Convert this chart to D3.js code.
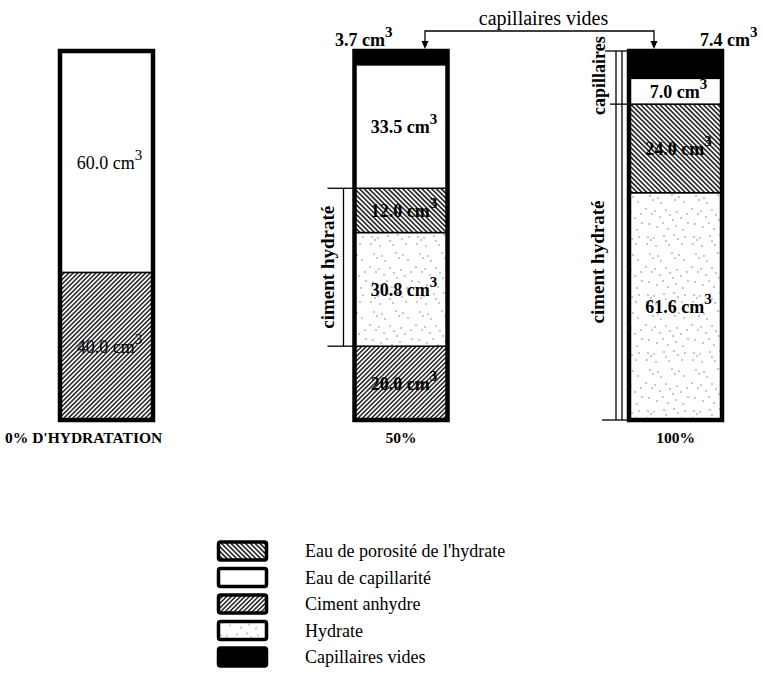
<!DOCTYPE html>
<html><head><meta charset="utf-8">
<script src="https://cdn.jsdelivr.net/npm/d3@7"></script>
<style>
html,body{margin:0;padding:0;background:#fff;}
svg{display:block;font-family:"Liberation Serif","Times New Roman",serif;}
</style></head>
<body>
<svg id="chart" width="763" height="693"></svg>
<script>
// ---- data ----
const categories = ["0% D'HYDRATATION", "50%", "100%"];
const components = ["Ciment anhydre", "Hydrate", "Eau de porosité de l'hydrate", "Eau de capillarité", "Capillaires vides"]; // bottom -> top
const cimentAnhydre = [40.0, 20.0, 0];
const hydrate = [0, 30.8, 61.6];
const eauPorosite = [0, 12.0, 24.0];
const eauCapillarite = [60.0, 33.5, 7.0];
const capillairesVides = [0, 3.7, 7.4];
const legendOrder = ["Eau de porosité de l'hydrate", "Eau de capillarité", "Ciment anhydre", "Hydrate", "Capillaires vides"];
const unit = "cm";

const series = [cimentAnhydre, hydrate, eauPorosite, eauCapillarite, capillairesVides];
const rows = categories.map((c, i) => {
  const r = {cat: c};
  components.forEach((k, j) => r[k] = series[j][i]);
  return r;
});

const svg = d3.select("#chart");
const defs = svg.append("defs");

// patterns
function hatch(id, angle, gap, sw) {
  const p = defs.append("pattern").attr("id", id).attr("patternUnits", "userSpaceOnUse")
    .attr("width", gap).attr("height", gap).attr("patternTransform", `rotate(${angle})`);
  p.append("rect").attr("width", gap).attr("height", gap).attr("fill", "#fff");
  p.append("line").attr("x1", gap/2).attr("x2", gap/2).attr("y1", 0).attr("y2", gap)
    .attr("stroke", "#222").attr("stroke-width", sw);
}
hatch("pAnhydre", 45, 3.2, 1.5);
hatch("pPorosite", -45, 3.4, 1.6);
const stip = defs.append("pattern").attr("id", "pHydrate").attr("patternUnits", "userSpaceOnUse")
  .attr("width", 46).attr("height", 58);
stip.append("rect").attr("width", 46).attr("height", 58).attr("fill", "#fff");
const dots = [[4,5],[7,8],[10,6],[3,12],[12,14],[20,4],[22,9],[25,13],[30,3],[34,7],[38,12],[41,5],
  [6,22],[9,26],[14,24],[17,29],[28,21],[31,26],[35,23],[40,28],[2,35],[8,40],[11,37],[16,43],
  [22,36],[26,41],[29,46],[33,38],[37,44],[43,40],[5,50],[13,53],[19,49],[24,55],[32,52],[39,56],[44,49]];
stip.selectAll("circle").data(dots).join("circle")
  .attr("cx", d => d[0]).attr("cy", d => d[1]).attr("r", 0.7).attr("fill", "#666");

const fills = {
  "Ciment anhydre": "url(#pAnhydre)",
  "Hydrate": "url(#pHydrate)",
  "Eau de porosité de l'hydrate": "url(#pPorosite)",
  "Eau de capillarité": "#fff",
  "Capillaires vides": "#000"
};

// scales
const x = d3.scaleOrdinal().domain(categories).range([106.5, 401, 675.5]);
const barW = 93;
const y = d3.scaleLinear().domain([0, 100]).range([420, 51]);

const stacked = d3.stack().keys(components)(rows);

// segments
const gBars = svg.append("g");
stacked.forEach(layer => {
  gBars.append("g").selectAll("rect").data(layer.filter(d => d[1] > d[0])).join("rect")
    .attr("x", d => x(d.data.cat) - barW/2)
    .attr("width", barW)
    .attr("y", d => y(d[1]))
    .attr("height", d => y(d[0]) - y(d[1]))
    .attr("fill", fills[layer.key])
    .attr("stroke", "#000").attr("stroke-width", 1.5);
});
// bar outlines
gBars.selectAll(".outline").data(rows).join("rect")
  .attr("x", d => x(d.cat) - barW/2).attr("width", barW)
  .attr("y", y(100)).attr("height", y(0) - y(100))
  .attr("fill", "none").attr("stroke", "#000").attr("stroke-width", 4.5);

// value labels
function cmLabel(sel, v) {
  sel.append("tspan").text(d3.format(".1f")(v) + " " + unit);
  sel.append("tspan").attr("dx", 0).attr("dy", -9).attr("font-size", 15).text("3");
}
stacked.forEach(layer => {
  layer.forEach(d => {
    const v = d[1] - d[0];
    if (v <= 0) return;
    const cx = x(d.data.cat);
    let t;
    if (layer.key === "Capillaires vides") {
      const left = categories.indexOf(d.data.cat) < 2;
      t = svg.append("text")
        .attr("x", left ? cx - barW/2 + 38 : cx + barW/2 - 22)
        .attr("y", y(d[1]) - 5)
        .attr("text-anchor", left ? "end" : "start");
    } else {
      t = svg.append("text").attr("x", cx + 3)
        .attr("y", (y(d[0]) + y(d[1])) / 2 + 7)
        .attr("text-anchor", "middle");
    }
    t.attr("font-size", 18).attr("font-weight", d.data.cat === categories[0] ? "normal" : "bold").attr("fill", "#000");
    cmLabel(t, v);
  });
});

// category labels
svg.selectAll(".cat").data(categories).join("text")
  .attr("class", "cat")
  .attr("y", 443).attr("font-size", 15.5).attr("font-weight", "bold")
  .text(d => d)
  .each(function(d) {
    const w = this.getComputedTextLength();
    const s = d3.select(this);
    if (w > barW * 1.3) s.attr("text-anchor", "start").attr("x", 5);
    else s.attr("text-anchor", "middle").attr("x", x(d));
  });

// brackets
const line = (x1, y1, x2, y2, sw) => svg.append("line").attr("x1", x1).attr("y1", y1).attr("x2", x2).attr("y2", y2)
  .attr("stroke", "#000").attr("stroke-width", sw || 1.3);
const vlabel = (xb, yc, txt, fs) => svg.append("text").attr("transform", `translate(${xb},${yc}) rotate(-90)`)
  .attr("text-anchor", "middle").attr("font-size", fs).attr("font-weight", "bold").text(txt);

// 50% bar: ciment hydraté (hydrate + porosité)
{
  const i = 1, c = categories[i], l = x(c) - barW/2;
  const y0 = y(cimentAnhydre[i]), y1 = y(cimentAnhydre[i] + hydrate[i] + eauPorosite[i]);
  line(l - 11, y0, l - 11, y1);
  line(l - 27, y0, l, y0);
  line(l - 27, y1, l, y1);
  vlabel(l - 21, (y0 + y1) / 2, "ciment hydraté", 19);
}
// 100% bar: ciment hydraté + capillaires
{
  const i = 2, c = categories[i], l = x(c) - barW/2;
  const y0 = y(cimentAnhydre[i]);
  const yh = y(cimentAnhydre[i] + hydrate[i] + eauPorosite[i]);
  const yt = y(100);
  line(l - 13, y0, l - 13, yt);
  line(l - 7, y0, l - 7, yt);
  line(l - 27, y0, l, y0);
  line(l - 19, yh, l, yh);
  line(l - 24, yt, l, yt);
  vlabel(l - 25, (y0 + yh) / 2, "ciment hydraté", 19);
  vlabel(l - 24, (yh + yt) / 2 - 2, "capillaires", 18);
}

// "capillaires vides" annotation
{
  const xa = x(categories[1]) + 24, xb = x(categories[2]) - barW/2 + 25, ya = 31;
  svg.append("path").attr("d", `M${xa},${y(100) - 8}V${ya}H${xb}V${y(100) - 8}`)
    .attr("fill", "none").attr("stroke", "#000").attr("stroke-width", 1.3);
  [xa, xb].forEach(xx => svg.append("path")
    .attr("d", `M${xx - 3.5},${y(100) - 10}L${xx + 3.5},${y(100) - 10}L${xx},${y(100) - 2}Z`).attr("fill", "#000"));
  svg.append("text").attr("x", (xa + xb) / 2 + 4).attr("y", 25).attr("text-anchor", "middle")
    .attr("font-size", 20).text("capillaires vides");
}

// legend
const lg = svg.append("g").selectAll("g").data(legendOrder).join("g")
  .attr("transform", (d, i) => `translate(217,${551 + i * 26.5})`);
lg.append("rect").attr("x", 1.5).attr("y", -9).attr("width", 48).attr("height", 18).attr("rx", 2)
  .attr("fill", d => fills[d]).attr("stroke", "#000").attr("stroke-width", 3.5);
lg.append("text").attr("x", 88).attr("y", 6).attr("font-size", 18).text(d => d);
</script>
</body></html>
